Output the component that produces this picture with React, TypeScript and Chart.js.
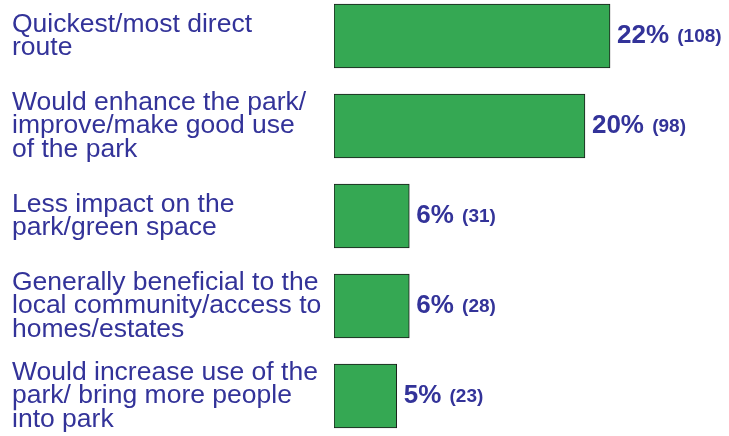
import React, { useEffect, useRef } from "react";
import { Chart, registerables } from "chart.js";

Chart.register(...registerables);

const categories: string[][] = [
  ["Quickest/most direct", "route"],
  ["Would enhance the park/", "improve/make good use", "of the park"],
  ["Less impact on the", "park/green space"],
  ["Generally beneficial to the", "local community/access to", "homes/estates"],
  ["Would increase use of the", "park/ bring more people", "into park"],
];
const percentValues: number[] = [22, 20, 6, 6, 5];
const countValues: number[] = [108, 98, 31, 28, 23];

const TEXT_COLOR = "#333399";
const BAR_COLOR = "#35a853";
const FONT = "'Liberation Sans', Arial, Helvetica, sans-serif";

const valueLabels = {
  id: "valueLabels",
  afterDatasetsDraw(chart: any) {
    const ctx = chart.ctx;
    const meta = chart.getDatasetMeta(0);
    ctx.save();
    ctx.fillStyle = TEXT_COLOR;
    ctx.textBaseline = "middle";
    ctx.textAlign = "left";
    meta.data.forEach((bar: any, i: number) => {
      const x = bar.x + 7;
      const y = bar.y;
      ctx.font = `bold 26px ${FONT}`;
      const pct = `${percentValues[i]}%`;
      ctx.fillText(pct, x, y);
      const w = ctx.measureText(pct + " ").width;
      ctx.font = `bold 19px ${FONT}`;
      ctx.fillText(`(${countValues[i]})`, x + w + 1, y + 1);
    });
    ctx.restore();
  },
};

export default function App() {
  const ref = useRef<HTMLCanvasElement | null>(null);
  useEffect(() => {
    if (!ref.current) return;
    const chart = new Chart(ref.current, {
      type: "bar",
      data: {
        labels: categories,
        datasets: [
          {
            data: percentValues,
            backgroundColor: BAR_COLOR,
            borderColor: "#1a1a1a",
            borderWidth: 1,
            borderSkipped: false,
            barThickness: 64,
          },
        ],
      },
      options: {
        indexAxis: "y",
        animation: false,
        responsive: false,
        maintainAspectRatio: false,
        layout: { padding: { left: 12, right: 18.6, top: 0, bottom: 0 } },
        plugins: {
          legend: { display: false },
          tooltip: { enabled: false },
          title: { display: false },
        },
        scales: {
          x: {
            display: false,
            min: 0,
            max: 30,
          },
          y: {
            grid: { display: false },
            border: { display: false },
            afterFit: (scale: any) => {
              scale.width = 322;
              scale.paddingTop = 0;
              scale.paddingBottom = 0;
            },
            ticks: {
              crossAlign: "far",
              color: TEXT_COLOR,
              padding: 0,
              autoSkip: false,
              font: { family: FONT, size: 26.5, lineHeight: 0.88 },
            },
          },
        },
      },
      plugins: [valueLabels],
    });
    return () => chart.destroy();
  }, []);
  return (
    <div style={{ position: "absolute", left: 0, top: -9, width: 729, height: 450, background: "#fff" }}>
      <canvas ref={ref} width={729} height={450} style={{ display: "block" }} />
    </div>
  );
}
